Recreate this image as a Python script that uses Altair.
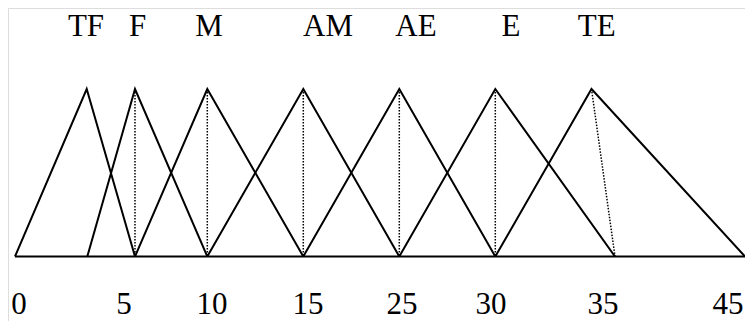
import altair as alt
import pandas as pd

# membership functions: left foot, peak, right foot (positions along axis, plot px units)
names = ["TF", "F", "M", "AM", "AE", "E", "TE"]
left_feet = [7.0, 79.3, 127.0, 199.3, 295.3, 391.3, 487.3]
peaks = [78.7, 127.0, 199.3, 295.3, 391.3, 487.3, 583.5]
right_feet = [127.0, 199.3, 295.3, 391.3, 487.3, 607.0, 737.0]

# dotted drop lines from peaks (x top, x bottom)
drop_top = [127.0, 199.3, 295.3, 391.3, 487.3, 583.5]
drop_bottom = [127.0, 199.3, 295.3, 391.3, 487.3, 607.0]

# label texts and positions
top_labels = ["TF", "F", "M", "AM", "AE", "E", "TE"]
top_label_pos = [78.0, 129.5, 201.0, 320.0, 408.0, 503.0, 588.7]
tick_labels = ["0", "5", "10", "15", "25", "30", "35", "45"]
tick_pos = [11.0, 116.0, 204.0, 300.0, 394.0, 483.0, 595.0, 720.0]

baseline_x = [7.0]
baseline_x2 = [737.0]

W, H = 737, 313
xs = alt.Scale(domain=[0, W], nice=False, zero=False)
ys = alt.Scale(domain=[-0.3851, 1.4836], nice=False, zero=False)

rows = []
for n, a, b, c in zip(names, left_feet, peaks, right_feet):
    rows += [
        {"name": n, "ord": 0, "x": a, "y": 0.0},
        {"name": n, "ord": 1, "x": b, "y": 1.0},
        {"name": n, "ord": 2, "x": c, "y": 0.0},
    ]
tri_df = pd.DataFrame(rows)

tri = alt.Chart(tri_df).mark_line(color="black", strokeWidth=2).encode(
    x=alt.X("x:Q", scale=xs, axis=None),
    y=alt.Y("y:Q", scale=ys, axis=None),
    detail="name:N",
    order="ord:Q",
)

drop_df = pd.DataFrame({"x": drop_top, "x2": drop_bottom, "y": [1.0] * len(drop_top), "y2": [0.0] * len(drop_top)})
drops = alt.Chart(drop_df).mark_rule(color="black", strokeWidth=1.5, strokeDash=[1.5, 1.5]).encode(
    x=alt.X("x:Q", scale=xs, axis=None),
    x2="x2:Q",
    y=alt.Y("y:Q", scale=ys, axis=None),
    y2="y2:Q",
)

base_df = pd.DataFrame({"x": baseline_x, "x2": baseline_x2, "y": [0.0]})
base = alt.Chart(base_df).mark_rule(color="black", strokeWidth=2).encode(
    x=alt.X("x:Q", scale=xs, axis=None),
    x2="x2:Q",
    y=alt.Y("y:Q", scale=ys, axis=None),
)

top_df = pd.DataFrame({"t": top_labels, "x": top_label_pos, "y": [1.3164] * len(top_labels)})
top_text = alt.Chart(top_df).mark_text(
    font="Liberation Serif", fontSize=31, color="black", align="center", baseline="alphabetic"
).encode(
    x=alt.X("x:Q", scale=xs, axis=None),
    y=alt.Y("y:Q", scale=ys, axis=None),
    text="t:N",
)

tick_df = pd.DataFrame({"t": tick_labels, "x": tick_pos, "y": [-0.3433] * len(tick_labels)})
tick_text = alt.Chart(tick_df).mark_text(
    font="Liberation Serif", fontSize=31, color="black", align="center", baseline="alphabetic"
).encode(
    x=alt.X("x:Q", scale=xs, axis=None),
    y=alt.Y("y:Q", scale=ys, axis=None),
    text="t:N",
)

chart = (
    alt.layer(base, tri, drops, top_text, tick_text)
    .properties(width=W, height=H, padding=0, autosize=alt.AutoSizeParams(type="none"))
    .configure_view(stroke=None)
    .configure(background="white")
)

chart.save("out.html", embed_options={"renderer": "svg", "actions": False})
